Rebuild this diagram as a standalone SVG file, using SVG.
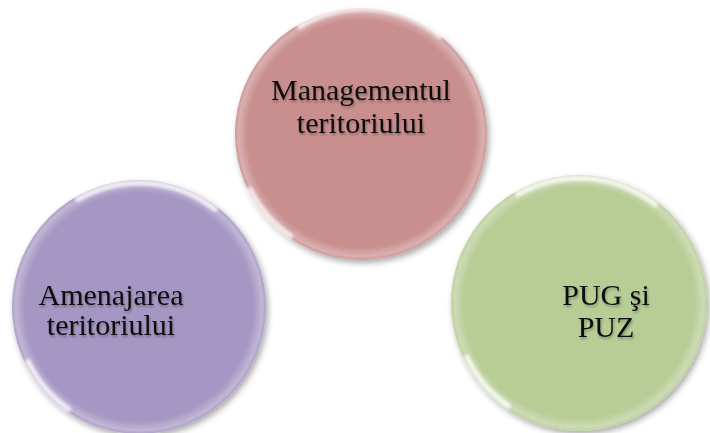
<svg xmlns="http://www.w3.org/2000/svg" width="710" height="433" viewBox="0 0 710 433">
<defs>
<style>
.lbl{font-family:"Liberation Serif","Times New Roman",serif;font-size:30px;fill:#111;text-anchor:middle}
.rim{fill:url(#rim)}
.hl{fill:none;stroke:#fff;stroke-width:6;stroke-linecap:round;opacity:0.75;filter:url(#blur)}
</style>
<radialGradient id="rim" cx="0.5" cy="0.5" r="0.5">
<stop offset="0.9" stop-color="#fff" stop-opacity="0"/>
<stop offset="0.97" stop-color="#fff" stop-opacity="0.3"/>
<stop offset="1" stop-color="#fff" stop-opacity="0.1"/>
</radialGradient>
<filter id="shadow" x="-20%" y="-20%" width="140%" height="140%">
<feGaussianBlur in="SourceAlpha" stdDeviation="3"/>
<feOffset dx="2" dy="3" result="b"/>
<feComponentTransfer><feFuncA type="linear" slope="0.35"/></feComponentTransfer>
<feMerge><feMergeNode/><feMergeNode in="SourceGraphic"/></feMerge>
</filter>
<filter id="blur" x="-20%" y="-20%" width="140%" height="140%"><feGaussianBlur stdDeviation="1.5"/></filter>
<filter id="tsh" x="-10%" y="-10%" width="120%" height="130%">
<feGaussianBlur in="SourceAlpha" stdDeviation="1"/>
<feOffset dx="1" dy="2"/>
<feComponentTransfer><feFuncA type="linear" slope="0.3"/></feComponentTransfer>
<feMerge><feMergeNode/><feMergeNode in="SourceGraphic"/></feMerge>
</filter>
</defs>
<rect width="710" height="433" fill="#fff"/>
<g id="node-management">
<circle cx="361" cy="134" r="126" fill="#C98E8E" filter="url(#shadow)"/>
<circle cx="361" cy="134" r="126" class="rim"/>
<path d="M 300 26 A 122 122 0 0 1 440 36" class="hl"/>
<path d="M 250 190 A 122 122 0 0 0 290 236" class="hl" opacity="0.5"/>
<text class="lbl" filter="url(#tsh)"><tspan x="361" y="100">Managementul</tspan><tspan x="361" y="133">teritoriului</tspan></text>
</g>
<g id="node-amenajarea">
<circle cx="139" cy="307" r="127" fill="#A597C3" filter="url(#shadow)"/>
<circle cx="139" cy="307" r="127" class="rim"/>
<path d="M 78 199 A 123 123 0 0 1 215 209" class="hl"/>
<path d="M 28 362 A 123 123 0 0 0 68 409" class="hl" opacity="0.5"/>
<text class="lbl" filter="url(#tsh)"><tspan x="111" y="305">Amenajarea</tspan><tspan x="111" y="335">teritoriului</tspan></text>
</g>
<g id="node-pug">
<circle cx="579" cy="303" r="128" fill="#B8CC96" filter="url(#shadow)"/>
<circle cx="579" cy="303" r="128" class="rim"/>
<path d="M 518 194 A 124 124 0 0 1 655 204" class="hl"/>
<path d="M 467 358 A 124 124 0 0 0 508 406" class="hl" opacity="0.5"/>
<text class="lbl" filter="url(#tsh)"><tspan x="606" y="305">PUG şi</tspan><tspan x="606" y="337">PUZ</tspan></text>
</g>
<g id="connectors"/>
</svg>
